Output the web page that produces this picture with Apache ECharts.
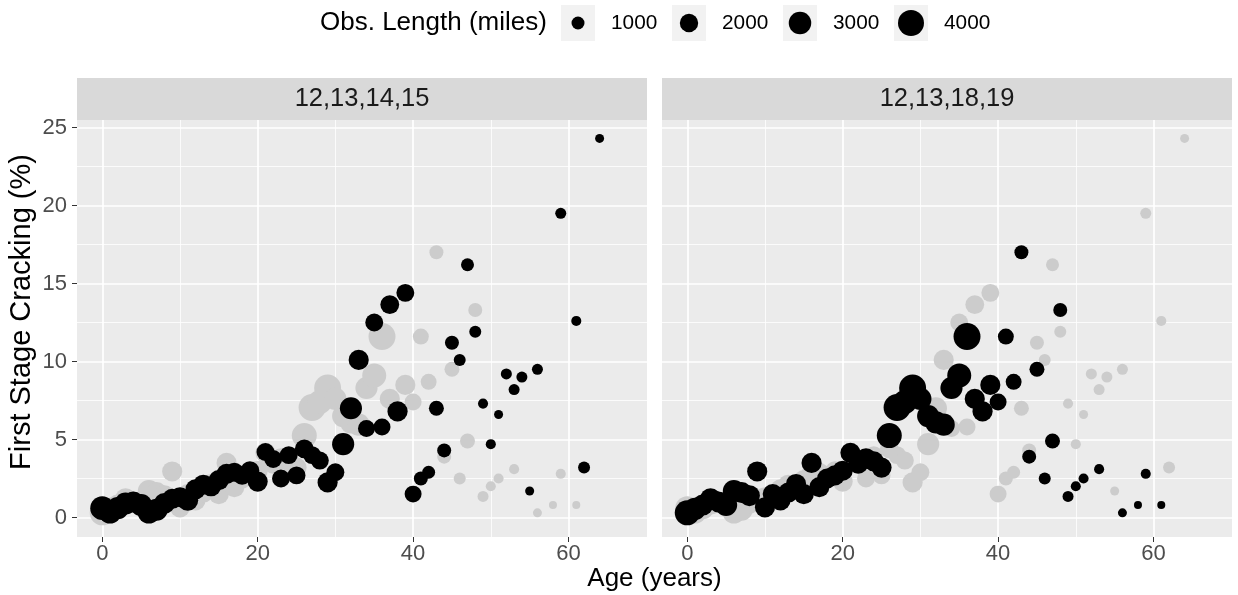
<!DOCTYPE html>
<html><head><meta charset="utf-8">
<script src="https://cdn.jsdelivr.net/npm/echarts@6/dist/echarts.min.js"></script>
<style>html,body{margin:0;padding:0;background:#fff}#c{width:1238px;height:595px}</style>
</head><body><div id="c"></div>
<script>
// ---- data ----
const panelNames = ['12,13,14,15', '12,13,18,19'];

const ageA = [0,1,2,3,4,5,6,7,8,9,10,11,12,13,14,15,16,17,18,19,20,21,22,23,24,25,26,27,28,29,30,31,32,33,34,35,36,37,38,39,40,41,42,43,44,45,46,47,48,49,50,51,52,53,54,55,56,59,61,62,64];
const crackA = [0.6,0.35,0.6,0.9,1.0,0.8,0.35,0.5,0.9,1.2,1.3,1.1,1.8,2.1,2.0,2.4,2.8,2.9,2.7,3.0,2.3,4.2,3.75,2.5,4.0,2.7,4.4,4.0,3.65,2.25,2.9,4.7,7.0,10.1,5.7,12.5,5.8,13.65,6.8,14.4,1.5,2.5,2.9,7.0,4.3,11.2,10.1,16.2,11.9,7.3,4.7,6.6,9.2,8.2,9.0,1.7,9.5,19.5,12.6,3.2,24.3];
const lengthA = [3400,3100,2900,2900,2600,2900,3100,2900,2600,2400,2400,2600,2400,2400,2400,2400,2400,2100,2100,2100,2400,1900,1900,1900,1900,1900,2100,1900,1900,2400,1900,2900,2900,2400,1700,1900,1700,2100,2400,1900,1700,1160,1000,1330,1160,1160,850,1000,850,600,600,480,720,720,720,480,720,720,600,850,480];

const ageB = [0,1,2,3,4,5,6,7,8,9,10,11,12,13,14,15,16,17,18,19,20,21,22,23,24,25,26,27,28,29,30,31,32,33,34,35,36,37,38,39,40,41,42,43,44,45,46,47,48,49,50,51,53,56,58,59,61];
const crackB = [0.3,0.55,0.8,1.2,1.0,0.8,1.7,1.6,1.4,2.95,0.65,1.5,1.1,1.6,2.15,1.5,3.5,1.95,2.5,2.7,3.0,4.15,3.45,3.8,3.6,3.2,5.25,7.05,7.4,8.3,7.6,6.5,6.1,5.95,8.3,9.1,11.6,7.6,6.8,8.5,7.4,11.6,8.7,17.0,3.9,9.5,2.5,4.9,13.3,1.35,2.0,2.5,3.1,0.3,0.8,2.8,0.8];
const lengthB = [3700,2900,2600,2600,2600,2900,2900,2600,2600,2400,2400,2400,2400,2400,2400,2400,2400,2400,2400,2400,2400,2400,2400,2400,2400,2400,3700,4300,3400,4300,2900,2900,2900,2900,2900,3400,4300,2400,2400,2400,1700,1500,1500,1160,1160,1330,850,1330,1160,720,600,600,600,480,380,600,380];

const xTicks = [0, 20, 40, 60];
const xMinor = [10, 30, 50];
const yTicks = [0, 5, 10, 15, 20, 25];
const yMinor = [2.5, 7.5, 12.5, 17.5, 22.5];
const legendValues = [1000, 2000, 3000, 4000];
const legendTitle = 'Obs. Length (miles)';
const xTitle = 'Age (years)';
const yTitle = 'First Stage Cracking (%)';

// ---- styling / layout ----
const FONT = '"Liberation Sans", Arial, Helvetica, sans-serif';
const SIZE_K = 0.411;
const sizeOf = v => SIZE_K * Math.sqrt(v);
const X_MIN = -3.25, X_MAX = 70.1, Y_MIN = -1.25, Y_MAX = 25.48;
const GRIDS = [{left: 77, top: 120, width: 570, height: 417}, {left: 662, top: 120, width: 570, height: 417}];
const STRIP_H = 42;
const TICK_FONT = 22;

const zip = (a, c, l) => a.map((v, i) => [v, c[i], l[i]]);
const dataA = zip(ageA, crackA, lengthA);
const dataB = zip(ageB, crackB, lengthB);

function xAxes(gi, showLabels) {
  return [
    {gridIndex: gi, type: 'value', min: X_MIN, max: X_MAX, position: 'bottom',
     axisLine: {show: false, onZero: false},
     axisTick: {show: true, length: 5, customValues: xTicks, lineStyle: {color: '#333', width: 1}},
     axisLabel: {show: showLabels, customValues: xTicks, color: '#4D4D4D', fontSize: TICK_FONT, fontFamily: FONT, margin: 6},
     splitLine: {show: true, lineStyle: {color: '#FFFFFF', width: 1.7}}},
    {gridIndex: gi, type: 'value', min: X_MIN, max: X_MAX, position: 'top',
     axisLine: {show: false, onZero: false},
     axisTick: {show: true, length: 0, customValues: xMinor, lineStyle: {opacity: 0}},
     axisLabel: {show: false},
     splitLine: {show: true, lineStyle: {color: '#FFFFFF', width: 0.8}}}
  ];
}
function yAxes(gi, showLabels) {
  return [
    {gridIndex: gi, type: 'value', min: Y_MIN, max: Y_MAX, position: 'left',
     axisLine: {show: false, onZero: false},
     axisTick: {show: true, length: showLabels ? 5 : 0, customValues: yTicks, lineStyle: {color: '#333', width: 1, opacity: showLabels ? 1 : 0}},
     axisLabel: {show: showLabels, customValues: yTicks, color: '#4D4D4D', fontSize: TICK_FONT, fontFamily: FONT, margin: 10},
     splitLine: {show: true, lineStyle: {color: '#FFFFFF', width: 1.7}}},
    {gridIndex: gi, type: 'value', min: Y_MIN, max: Y_MAX, position: 'right',
     axisLine: {show: false, onZero: false},
     axisTick: {show: true, length: 0, customValues: yMinor, lineStyle: {opacity: 0}},
     axisLabel: {show: false},
     splitLine: {show: true, lineStyle: {color: '#FFFFFF', width: 0.8}}}
  ];
}

function pointSeries(data, gi, color, z) {
  return {
    type: 'scatter', xAxisIndex: gi * 2, yAxisIndex: gi * 2, data: data,
    symbol: 'circle', symbolSize: v => sizeOf(v[2]),
    itemStyle: {color: color, opacity: 1}, z: z, silent: true, animation: false
  };
}

const graphics = [];
GRIDS.forEach((g, i) => {
  graphics.push({type: 'rect', shape: {x: g.left, y: g.top - STRIP_H, width: g.width, height: STRIP_H}, style: {fill: '#D9D9D9'}, silent: true});
  graphics.push({type: 'text', x: g.left + g.width / 2, y: g.top - STRIP_H / 2,
    style: {text: panelNames[i], fontSize: 25.5, fontFamily: FONT, fill: '#1A1A1A', align: 'center', verticalAlign: 'middle', textAlign: 'center', textVerticalAlign: 'middle'}, silent: true});
});
// axis titles
graphics.push({type: 'text', x: (GRIDS[0].left + GRIDS[1].left + GRIDS[1].width) / 2, y: 579,
  style: {text: xTitle, fontSize: 26, fontFamily: FONT, fill: '#000', align: 'center', verticalAlign: 'middle', textAlign: 'center', textVerticalAlign: 'middle'}, silent: true});
graphics.push({type: 'text', x: 22, y: 312, rotation: Math.PI / 2,
  style: {text: yTitle, fontSize: 29, fontFamily: FONT, fill: '#000', align: 'center', verticalAlign: 'middle', textAlign: 'center', textVerticalAlign: 'middle'}, silent: true});
// legend
const LEG_Y = 23;
graphics.push({type: 'text', x: 320, y: LEG_Y,
  style: {text: legendTitle, fontSize: 26, fontFamily: FONT, fill: '#000', align: 'left', verticalAlign: 'middle', textAlign: 'left', textVerticalAlign: 'middle'}, silent: true});
legendValues.forEach((v, i) => {
  const cx = 578 + i * 111;
  graphics.push({type: 'rect', shape: {x: cx - 17, y: LEG_Y - 18, width: 34, height: 36}, style: {fill: '#F2F2F2'}, silent: true});
  graphics.push({type: 'circle', shape: {cx: cx, cy: LEG_Y, r: sizeOf(v) / 2}, style: {fill: '#000'}, silent: true});
  graphics.push({type: 'text', x: cx + 33, y: LEG_Y,
    style: {text: String(v), fontSize: 20.8, fontFamily: FONT, fill: '#000', align: 'left', verticalAlign: 'middle', textAlign: 'left', textVerticalAlign: 'middle'}, silent: true});
});

const chart = echarts.init(document.getElementById('c'), null, {renderer: 'canvas'});
chart.setOption({
  animation: false,
  backgroundColor: '#FFFFFF',
  textStyle: {fontFamily: FONT},
  grid: GRIDS.map(g => Object.assign({show: true, backgroundColor: '#EBEBEB', borderWidth: 0, containLabel: false}, g)),
  xAxis: xAxes(0, true).concat(xAxes(1, true)),
  yAxis: yAxes(0, true).concat(yAxes(1, false)),
  series: [
    pointSeries(dataB, 0, '#CCCCCC', 2),
    pointSeries(dataA, 0, '#000000', 3),
    pointSeries(dataA, 1, '#CCCCCC', 2),
    pointSeries(dataB, 1, '#000000', 3)
  ],
  graphic: graphics
});
</script></body></html>
